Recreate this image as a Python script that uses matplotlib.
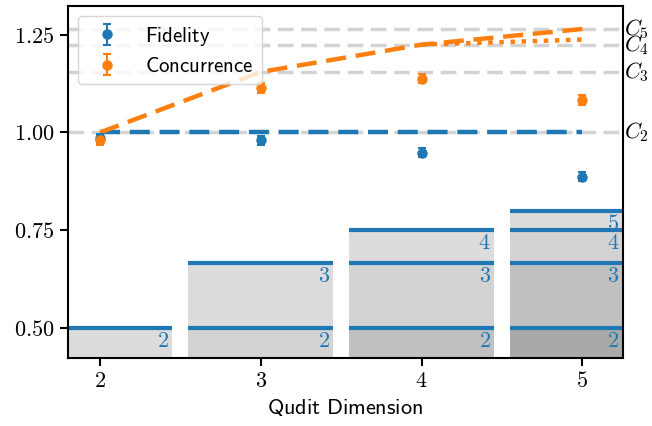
import matplotlib
matplotlib.use("Agg")
import matplotlib.pyplot as plt
from matplotlib.ticker import FuncFormatter

plt.rcParams["mathtext.fontset"] = "cm"
plt.rcParams["font.size"] = 16

# data
dims = [2, 3, 4, 5]
fidelity = [0.985, 0.980, 0.948, 0.887]
fidelity_err = [0.012, 0.012, 0.012, 0.012]
concurrence = [0.980, 1.114, 1.138, 1.083]
concurrence_err = [0.012, 0.012, 0.012, 0.012]

# bound C_d for each dimension
c_bound = [1.0, 1.155, 1.225, 1.265]
c_labels = ["$C_2$", "$C_3$", "$C_4$", "$C_5$"]
# dotted continuation from d=4 to d=5
dotted_x = [4, 5]
dotted_y = [1.225, 1.238]

# thresholds (k-1)/k drawn inside each bar
thresholds = {2: 0.5, 3: 0.667, 4: 0.75, 5: 0.8}
layer_colors = ["gainsboro", "lightgray", "silver", "darkgray"]

bar_w = 0.9
xlim = (1.8, 5.25)
ylim = (0.423, 1.324)
dash = (0, (4.5, 2.2))

fig = plt.figure(figsize=(6.52, 4.26), dpi=100)
ax = fig.add_axes([0.104, 0.160, 0.851, 0.826])

for d in dims:
    ks = list(range(2, d + 1))
    tops = [thresholds[k] for k in ks]
    bottoms = [0.0] + tops[:-1]
    # top-most layer is lightest
    for i, (b, t) in enumerate(zip(bottoms, tops)):
        col = layer_colors[len(ks) - 1 - i]
        ax.bar(d, t - b, bottom=b, width=bar_w, color=col, zorder=0)
    xl, xr = d - bar_w / 2, min(d + bar_w / 2, xlim[1])
    for k, t in zip(ks, tops):
        ax.plot([xl, xr], [t, t], color="C0", lw=3, solid_capstyle="butt", zorder=1)
        ax.text(xr - 0.02, t - 0.008, f"${k}$", ha="right", va="top",
                color="C0", fontsize=16, zorder=2)

for c, lab in zip(c_bound, c_labels):
    ax.axhline(c, color="lightgray", lw=2.5, ls=dash, zorder=1)
    ax.text(xlim[1] + 0.01, c, lab, ha="left", va="center", fontsize=16)

ax.plot([dims[0], dims[-1]], [c_bound[0], c_bound[0]], color="C0", lw=3.2,
        ls=dash, zorder=3)
ax.plot(dims, c_bound, color="C1", lw=3.2, ls=dash, zorder=3)
ax.plot(dotted_x, dotted_y, color="C1", lw=3.2, ls=(0, (1, 1.5)), zorder=3)

ax.errorbar(dims, fidelity, yerr=fidelity_err, fmt="o", color="C0", ms=6.5,
            capsize=3, elinewidth=1.5, capthick=1.5, label=r"$\mathsf{Fidelity}$", zorder=4)
ax.errorbar(dims, concurrence, yerr=concurrence_err, fmt="o", color="C1", ms=6.5,
            capsize=3, elinewidth=1.5, capthick=1.5, label=r"$\mathsf{Concurrence}$", zorder=4)

ax.set_xlim(*xlim)
ax.set_ylim(*ylim)
ax.set_xticks(dims)
ax.set_yticks([0.5, 0.75, 1.0, 1.25])
ax.xaxis.set_major_formatter(FuncFormatter(lambda v, p: f"${v:.0f}$"))
ax.yaxis.set_major_formatter(FuncFormatter(lambda v, p: f"${v:.2f}$"))
ax.tick_params(width=1.5, length=6, labelsize=16)
for s in ax.spines.values():
    s.set_linewidth(1.5)
ax.set_xlabel(r"$\mathsf{Qudit\ Dimension}$", fontsize=16, labelpad=4)

leg = ax.legend(loc="upper left", fontsize=15, framealpha=0.8,
                handletextpad=0.8, borderaxespad=0.5, labelspacing=0.4)
leg.set_zorder(5)

fig.savefig("out.png", dpi=100)
